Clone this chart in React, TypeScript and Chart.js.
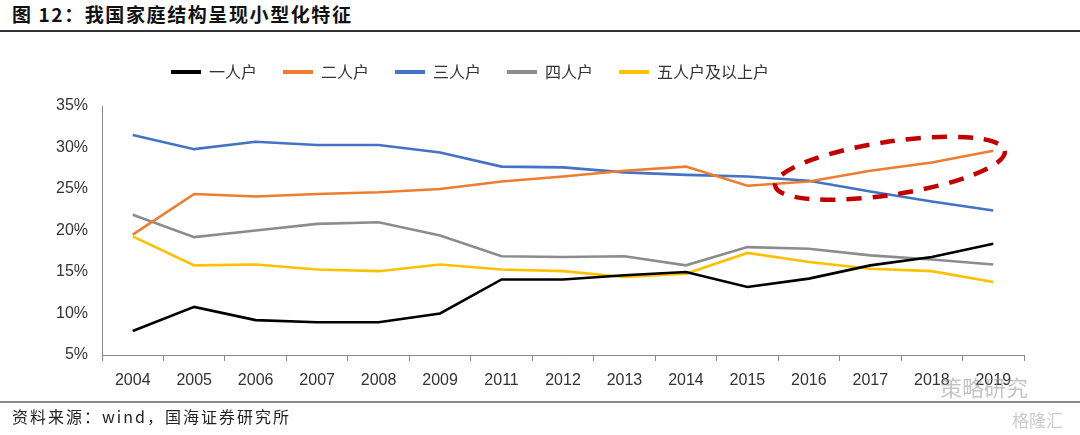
import React, { useEffect, useRef } from "react";
import { Chart, registerables } from "chart.js";

Chart.register(...registerables);

const categories = ["2004", "2005", "2006", "2007", "2008", "2009", "2011", "2012", "2013", "2014", "2015", "2016", "2017", "2018", "2019"];
const onePerson = [7.9, 10.8, 9.2, 8.95, 8.95, 10.0, 14.1, 14.1, 14.6, 15.0, 13.2, 14.2, 15.8, 16.8, 18.4];
const twoPerson = [19.5, 24.4, 24.1, 24.4, 24.6, 25.0, 25.9, 26.5, 27.2, 27.7, 25.4, 25.9, 27.2, 28.2, 29.6];
const threePerson = [31.5, 29.8, 30.7, 30.3, 30.3, 29.4, 27.7, 27.6, 27.0, 26.7, 26.5, 26.0, 24.7, 23.5, 22.4];
const fourPerson = [21.9, 19.2, 20.0, 20.8, 21.0, 19.4, 16.9, 16.8, 16.9, 15.8, 18.0, 17.8, 17.0, 16.5, 15.9];
const fivePlus = [19.3, 15.8, 15.9, 15.3, 15.1, 15.9, 15.3, 15.1, 14.4, 14.8, 17.3, 16.2, 15.4, 15.1, 13.8];
const seriesNames = ["一人户", "二人户", "三人户", "四人户", "五人户及以上户"];
const seriesColors = ["#000000", "#ED7D31", "#4472C4", "#8C8C8C", "#FFC000"];
const yMin = 5;
const yMax = 35;
const yStep = 5;

// highlight ellipse (in data units: category index & percent)
const ellipseCenter = { index: 12.32, value: 27.5 };
const ellipseRadius = { categories: 1.89, percent: 3.2 };
const ellipseTilt = -0.15;

const ellipsePlugin = {
  id: "ellipseMark",
  afterDatasetsDraw(chart: any) {
    const xs = chart.scales.x;
    const ys = chart.scales.y;
    const ctx = chart.ctx;
    const cx = xs.getPixelForValue(ellipseCenter.index);
    const cy = ys.getPixelForValue(ellipseCenter.value);
    const catW = xs.getPixelForValue(1) - xs.getPixelForValue(0);
    const rx = catW * ellipseRadius.categories;
    const ry = Math.abs(ys.getPixelForValue(0) - ys.getPixelForValue(ellipseRadius.percent));
    ctx.save();
    ctx.beginPath();
    ctx.ellipse(cx, cy, rx, ry, ellipseTilt, 0, Math.PI * 2);
    ctx.setLineDash([15, 11]);
    ctx.lineWidth = 4.5;
    ctx.strokeStyle = "#C00000";
    ctx.stroke();
    ctx.restore();
  },
};

// nudge the legend box (left shift and up shift) after layout
const legendShift = { x: 84, y: 16 };
const legendNudgePlugin = {
  id: "legendNudge",
  afterLayout(chart: any) {
    const lg = chart.legend;
    if (!lg) return;
    lg.right -= legendShift.x;
    lg.width = lg.right - lg.left;
    lg.top -= legendShift.y;
    lg.bottom -= legendShift.y;
  },
};

export default function App() {
  const ref = useRef<HTMLCanvasElement | null>(null);

  useEffect(() => {
    if (!ref.current) return;
    const data = [onePerson, twoPerson, threePerson, fourPerson, fivePlus];
    const chart = new Chart(ref.current, {
      type: "line",
      data: {
        labels: categories,
        datasets: data.map((d, i) => ({
          label: seriesNames[i],
          data: d,
          borderColor: seriesColors[i],
          backgroundColor: seriesColors[i],
          borderWidth: 2.6,
          pointRadius: 0,
          pointHoverRadius: 0,
          tension: 0,
          fill: false,
        })),
      },
      options: {
        responsive: false,
        animation: false,
        layout: { padding: { left: 0, right: 56, top: 54, bottom: 35 } },
        plugins: {
          tooltip: { enabled: false },
          legend: {
            position: "top",
            labels: {
              boxWidth: 30,
              boxHeight: 4,
              padding: 26,
              color: "#333333",
              font: { size: 16, family: "'Noto Sans CJK SC', sans-serif" },
              generateLabels: (c: any) =>
                (Chart.defaults.plugins.legend.labels.generateLabels as any)(c).map((l: any) => ({ ...l, lineWidth: 0 })),
            },
          },
        },
        scales: {
          x: {
            offset: true,
            grid: { display: true, drawOnChartArea: false, drawTicks: true, tickLength: 6, offset: true, color: "#898989" },
            border: { display: true, color: "#898989", width: 1 },
            ticks: { color: "#333333", padding: 10, font: { size: 16, family: "'Liberation Sans', Arial, sans-serif" }, maxRotation: 0, autoSkip: false },
            afterFit: (s: any) => { s.height = 45; },
          },
          y: {
            min: yMin,
            max: yMax,
            grid: { display: false, drawTicks: false },
            border: { display: true, color: "#898989", width: 1 },
            ticks: {
              stepSize: yStep,
              color: "#333333",
              padding: 14,
              font: { size: 16, family: "'Liberation Sans', Arial, sans-serif" },
              callback: (v: any) => v + "%",
            },
            afterFit: (s: any) => { s.width = 102; },
          },
        },
      },
      plugins: [ellipsePlugin, legendNudgePlugin],
    });
    return () => chart.destroy();
  }, []);

  return (
    <div style={{ position: "absolute", left: 0, top: 0, width: 1080, height: 435, background: "#fff", overflow: "hidden", fontFamily: "'Noto Sans CJK SC', sans-serif" }}>
      <div style={{ position: "absolute", left: 12, top: 1, fontSize: 19, fontWeight: 700, color: "#111", letterSpacing: 1.6, whiteSpace: "nowrap", lineHeight: "26px" }}>
        图 12：我国家庭结构呈现小型化特征
      </div>
      <div style={{ position: "absolute", left: 0, top: 30, width: 1080, height: 1.5, background: "#333" }} />
      <canvas ref={ref} width={1080} height={435} style={{ position: "absolute", left: 0, top: 0 }} />
      <div style={{ position: "absolute", left: 0, top: 401, width: 1080, height: 2, background: "#8a8a8a" }} />
      <div style={{ position: "absolute", left: 12, top: 404, fontSize: 16, color: "#222", letterSpacing: 2, whiteSpace: "nowrap", lineHeight: "24px" }}>
        资料来源：wind，国海证券研究所
      </div>
      <div style={{ position: "absolute", left: 940, top: 370, fontSize: 22, color: "rgba(150,150,150,0.55)", whiteSpace: "nowrap" }}>策略研究</div>
      <div style={{ position: "absolute", left: 1012, top: 407, fontSize: 17, color: "rgba(170,170,170,0.6)", whiteSpace: "nowrap" }}>格隆汇</div>
    </div>
  );
}
